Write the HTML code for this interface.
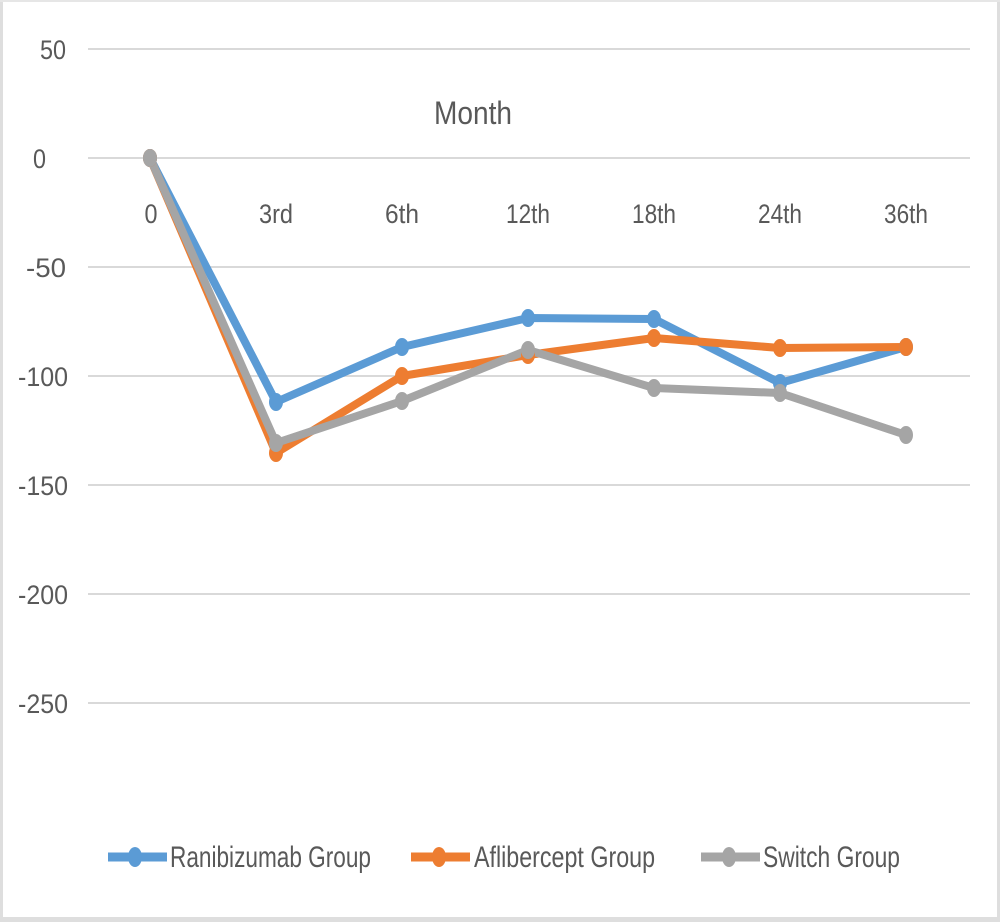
<!DOCTYPE html>
<html><head><meta charset="utf-8"><style>
html,body{margin:0;padding:0;background:#fff;}
svg{display:block;}
text{font-family:"Liberation Sans",sans-serif;fill:#595959;}
</style></head><body>
<svg width="1000" height="922" viewBox="0 0 1000 922">
<rect x="0" y="0" width="1000" height="922" fill="#fff"/>
<rect x="0" y="0" width="3" height="922" fill="#dedede"/>
<rect x="997" y="0" width="3" height="922" fill="#dedede"/>
<rect x="0" y="0" width="1000" height="2" fill="#e6e6e6"/>
<rect x="0" y="917" width="1000" height="5" fill="#dedede"/>
<g stroke="#d9d9d9" stroke-width="2">
<line x1="88" y1="49" x2="970" y2="49"/>
<line x1="88" y1="158" x2="970" y2="158"/>
<line x1="88" y1="267" x2="970" y2="267"/>
<line x1="88" y1="376" x2="970" y2="376"/>
<line x1="88" y1="485" x2="970" y2="485"/>
<line x1="88" y1="594" x2="970" y2="594"/>
<line x1="88" y1="703" x2="970" y2="703"/>
</g>
<g font-size="27" text-anchor="end">
<text x="66" y="59" textLength="26" lengthAdjust="spacingAndGlyphs">50</text>
<text x="46" y="168" textLength="13" lengthAdjust="spacingAndGlyphs">0</text>
<text x="66" y="277" textLength="40" lengthAdjust="spacingAndGlyphs">-50</text>
<text x="68" y="386" textLength="50" lengthAdjust="spacingAndGlyphs">-100</text>
<text x="68" y="495" textLength="50" lengthAdjust="spacingAndGlyphs">-150</text>
<text x="68" y="604" textLength="50" lengthAdjust="spacingAndGlyphs">-200</text>
<text x="68" y="713" textLength="50" lengthAdjust="spacingAndGlyphs">-250</text>
</g>
<text x="473" y="124" font-size="32" text-anchor="middle" textLength="78" lengthAdjust="spacingAndGlyphs">Month</text>
<g font-size="27" text-anchor="middle">
<text x="151" y="223" textLength="13" lengthAdjust="spacingAndGlyphs">0</text>
<text x="276" y="223" textLength="34" lengthAdjust="spacingAndGlyphs">3rd</text>
<text x="402" y="223" textLength="34" lengthAdjust="spacingAndGlyphs">6th</text>
<text x="528" y="223" textLength="44" lengthAdjust="spacingAndGlyphs">12th</text>
<text x="654" y="223" textLength="44" lengthAdjust="spacingAndGlyphs">18th</text>
<text x="780" y="223" textLength="44" lengthAdjust="spacingAndGlyphs">24th</text>
<text x="906" y="223" textLength="44" lengthAdjust="spacingAndGlyphs">36th</text>
</g>
<defs>
<ellipse id="m" cx="0" cy="0" rx="7" ry="9"/>
</defs>
<g fill="none" stroke-width="8" stroke-linejoin="round" stroke-linecap="round">
<polyline stroke="#5b9bd5" points="150,158 276,402 402,347 528,318 654,319 780,383 906,347"/>
<polyline stroke="#ed7d31" points="150,158 276,453 402,376 528,355 654,338 780,348 906,347"/>
<polyline stroke="#a5a5a5" points="150,158 276,443 402,401 528,350 654,388 780,393 906,435"/>
</g>
<g fill="#5b9bd5">
<use href="#m" x="150" y="158"/><use href="#m" x="276" y="402"/><use href="#m" x="402" y="347"/><use href="#m" x="528" y="318"/><use href="#m" x="654" y="319"/><use href="#m" x="780" y="383"/><use href="#m" x="906" y="347"/>
</g>
<g fill="#ed7d31">
<use href="#m" x="150" y="158"/><use href="#m" x="276" y="453"/><use href="#m" x="402" y="376"/><use href="#m" x="528" y="355"/><use href="#m" x="654" y="338"/><use href="#m" x="780" y="348"/><use href="#m" x="906" y="347"/>
</g>
<g fill="#a5a5a5">
<use href="#m" x="150" y="158"/><use href="#m" x="276" y="443"/><use href="#m" x="402" y="401"/><use href="#m" x="528" y="350"/><use href="#m" x="654" y="388"/><use href="#m" x="780" y="393"/><use href="#m" x="906" y="435"/>
</g>
<g stroke-width="9">
<line x1="108" y1="857" x2="167" y2="857" stroke="#5b9bd5"/>
<line x1="411" y1="857" x2="470" y2="857" stroke="#ed7d31"/>
<line x1="701" y1="857" x2="760" y2="857" stroke="#a5a5a5"/>
</g>
<ellipse cx="135" cy="857" rx="7" ry="10" fill="#5b9bd5"/>
<ellipse cx="439" cy="857" rx="7" ry="10" fill="#ed7d31"/>
<ellipse cx="729" cy="857" rx="7" ry="10" fill="#a5a5a5"/>
<g font-size="30">
<text x="170" y="867" textLength="201" lengthAdjust="spacingAndGlyphs">Ranibizumab Group</text>
<text x="474" y="867" textLength="181" lengthAdjust="spacingAndGlyphs">Aflibercept Group</text>
<text x="763" y="867" textLength="137" lengthAdjust="spacingAndGlyphs">Switch Group</text>
</g>
</svg>
</body></html>
